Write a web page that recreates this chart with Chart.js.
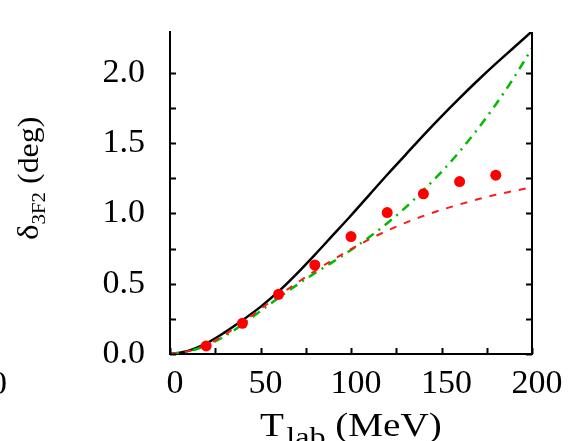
<!DOCTYPE html>
<html>
<head>
<meta charset="utf-8">
<title>3F2 phase shift</title>
<script src="https://cdn.jsdelivr.net/npm/chart.js"></script>
<style>
  html, body { margin: 0; padding: 0; background: #fff; }
  #wrap { width: 572px; height: 441px; }
</style>
</head>
<body>
<div id="wrap"><canvas id="phase" width="572" height="441"></canvas></div>
<script>
// lab energy grid for the calculated curves (MeV)
const tLab = [0, 10, 20, 30, 40, 50, 60, 70, 80, 90, 100, 110, 120, 130, 140, 150, 160, 170, 180, 190, 200];
// phase shifts in degrees
const deltaSolid   = [0, 0.022, 0.075, 0.152, 0.24, 0.335, 0.445, 0.57, 0.705, 0.845, 0.985, 1.13, 1.275, 1.415, 1.555, 1.69, 1.82, 1.945, 2.065, 2.18, 2.295];
const deltaDashed  = [0, 0.02, 0.065, 0.135, 0.225, 0.32, 0.415, 0.505, 0.59, 0.67, 0.745, 0.815, 0.877, 0.933, 0.982, 1.025, 1.064, 1.1, 1.132, 1.16, 1.185];
const deltaDashDot = [0, 0.018, 0.06, 0.125, 0.21, 0.305, 0.4, 0.49, 0.575, 0.655, 0.74, 0.83, 0.93, 1.04, 1.165, 1.295, 1.44, 1.6, 1.775, 1.965, 2.175];
// partial-wave analysis points
const tPwa = [20, 40, 60, 80, 100, 120, 140, 160, 180];
const deltaPwa = [0.057, 0.218, 0.425, 0.633, 0.835, 1.006, 1.139, 1.226, 1.272];
// axis ticks
const xTickStep = 25, xLabelStep = 50;
const yTickStep = 0.25, yLabelStep = 0.5;

const pts = (xs, ys) => xs.map((x, i) => ({ x: x, y: ys[i] }));

const serif = '"Liberation Serif", "Times New Roman", serif';

// inward ticks on left, right and bottom, right frame line, axis titles
const frame = {
  id: 'frame',
  afterDraw(chart) {
    const { ctx, chartArea: a, scales } = chart;
    const tk = 6;
    ctx.save();
    ctx.strokeStyle = '#000';
    ctx.lineWidth = 2;
    ctx.beginPath();
    ctx.moveTo(a.right, a.top);
    ctx.lineTo(a.right, a.bottom);
    scales.y.ticks.forEach(t => {
      if (Math.abs(t.value / yTickStep - Math.round(t.value / yTickStep)) > 1e-6) return;
      const py = Math.round(scales.y.getPixelForValue(t.value)) + 0.5;
      ctx.moveTo(a.left, py); ctx.lineTo(a.left + tk, py);
      ctx.moveTo(a.right, py); ctx.lineTo(a.right - tk, py);
    });
    scales.x.ticks.forEach(t => {
      const px = Math.round(scales.x.getPixelForValue(t.value)) + 0.5;
      ctx.moveTo(px, a.bottom); ctx.lineTo(px, a.bottom - tk);
    });
    ctx.stroke();

    ctx.fillStyle = '#000';
    ctx.textBaseline = 'alphabetic';
    ctx.textAlign = 'left';

    // x title: T_lab (MeV), a little wide
    ctx.save();
    ctx.translate(260, 436);
    ctx.scale(1.15, 1);
    let x = 0;
    ctx.font = '34px ' + serif;
    ctx.fillText('T', x, 0);
    x += ctx.measureText('T').width + 2;
    ctx.font = '28px ' + serif;
    ctx.fillText('lab', x, 10);
    x += ctx.measureText('lab').width;
    ctx.font = '34px ' + serif;
    ctx.fillText(' (MeV)', x, 0);
    ctx.restore();

    // y title: δ_3F2 (deg), reading upwards
    ctx.save();
    ctx.translate(38, 240);
    ctx.rotate(-Math.PI / 2);
    ctx.scale(1.1, 1);
    let s = 0;
    ctx.font = '30px ' + serif;
    ctx.fillText('δ', s, 0);
    s += ctx.measureText('δ').width;
    ctx.font = '19px ' + serif;
    ctx.fillText('3F2', s, 7);
    s += ctx.measureText('3F2').width;
    ctx.font = '29px ' + serif;
    ctx.fillText(' (deg)', s, 0);
    ctx.restore();

    // edge of the next panel's "200" label
    ctx.font = '34px ' + serif;
    ctx.textAlign = 'right';
    ctx.fillText('200', 7, 394);
    ctx.restore();
  }
};

new Chart(document.getElementById('phase'), {
  type: 'scatter',
  data: {
    datasets: [
      {
        label: 'PWA',
        data: pts(tPwa, deltaPwa),
        showLine: false,
        pointRadius: 5.5,
        pointBackgroundColor: '#ff0000',
        pointBorderWidth: 0
      },
      {
        label: 'dashed',
        data: pts(tLab, deltaDashed),
        showLine: true,
        borderColor: '#ff1a1a',
        borderWidth: 2,
        borderDash: [7, 8],
        pointRadius: 0,
        cubicInterpolationMode: 'monotone'
      },
      {
        label: 'dash-dot',
        data: pts(tLab, deltaDashDot),
        showLine: true,
        borderColor: '#00bb00',
        borderWidth: 2.5,
        borderDash: [9, 6, 2, 6],
        pointRadius: 0,
        cubicInterpolationMode: 'monotone'
      },
      {
        label: 'solid',
        data: pts(tLab, deltaSolid),
        showLine: true,
        borderColor: '#000',
        borderWidth: 2.5,
        pointRadius: 0,
        cubicInterpolationMode: 'monotone'
      }
    ]
  },
  options: {
    responsive: false,
    animation: false,
    events: [],
    layout: { padding: { left: 0, right: 40, top: 32, bottom: 0 } },
    plugins: { legend: { display: false }, tooltip: { enabled: false } },
    scales: {
      x: {
        type: 'linear',
        min: 0, max: 200,
        afterFit: s => { s.height = 87; s.paddingLeft = 0; s.paddingRight = 0; },
        grid: { display: false, drawTicks: false },
        border: { display: true, color: '#000', width: 2 },
        ticks: {
          stepSize: xTickStep,
          padding: 10,
          labelOffset: 5,
          maxRotation: 0,
          autoSkip: false,
          color: '#000',
          font: { family: serif, size: 34 },
          callback: v => (v % xLabelStep === 0 ? String(v) : '')
        }
      },
      y: {
        type: 'linear',
        min: 0, max: 2.29,
        afterFit: s => { s.width = 170; s.paddingTop = 0; s.paddingBottom = 0; },
        grid: { display: false, drawTicks: false },
        border: { display: true, color: '#000', width: 2 },
        ticks: {
          stepSize: yTickStep,
          padding: 25,
          autoSkip: false,
          color: '#000',
          font: { family: serif, size: 34 },
          callback: v => {
            const k = v / yLabelStep;
            return Math.abs(k - Math.round(k)) < 1e-6 ? v.toFixed(1) : '';
          }
        }
      }
    }
  },
  plugins: [frame]
});
</script>
</body>
</html>
